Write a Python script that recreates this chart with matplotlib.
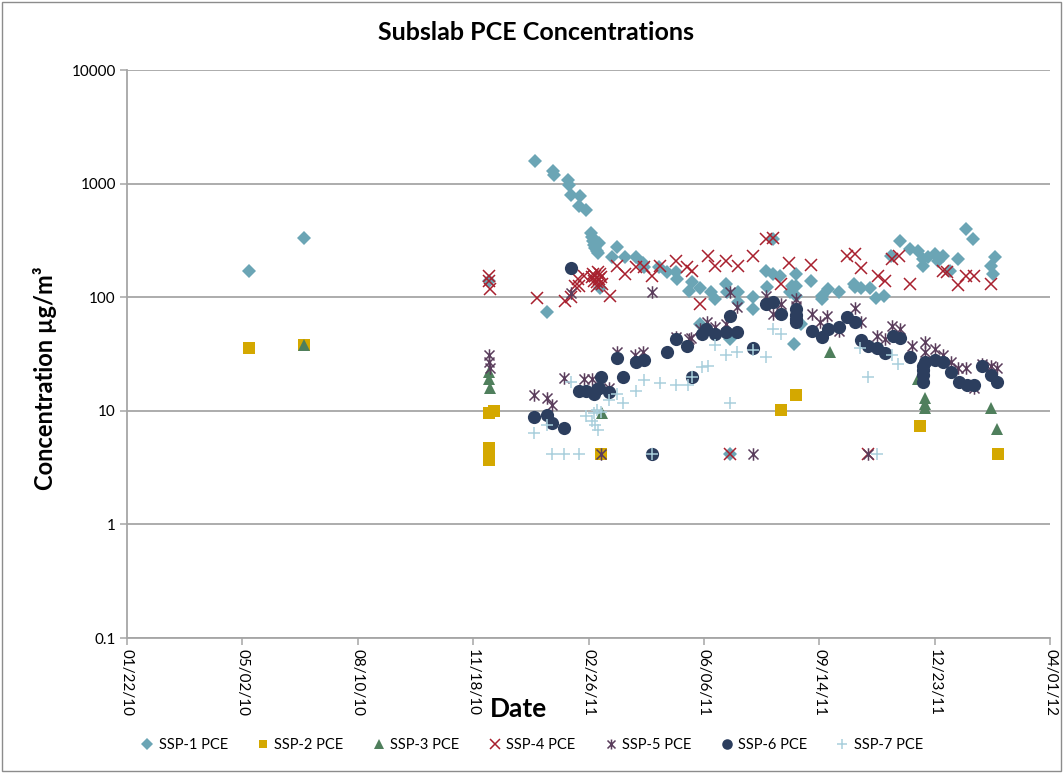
import matplotlib
matplotlib.use('Agg')
import matplotlib.pyplot as plt
import matplotlib.dates as mdates
from matplotlib.path import Path
from matplotlib.patches import Rectangle
from matplotlib.ticker import FixedLocator, FuncFormatter
import pandas as pd

plt.rcParams['font.family'] = ['Lato', 'DejaVu Sans']

# ---- data (date, PCE in ug/m3) ----
ssp1_dates = ["2010-05-08", "2010-06-24", "2010-12-02",
              "2011-01-11", "2011-01-21", "2011-01-26", "2011-01-27", "2011-02-08", "2011-02-09",
              "2011-02-11", "2011-02-18", "2011-02-19", "2011-02-24",
              "2011-02-28", "2011-03-01", "2011-03-02", "2011-03-03", "2011-03-04", "2011-03-05",
              "2011-03-06", "2011-03-07", "2011-03-08",
              "2011-03-18", "2011-03-23", "2011-03-30", "2011-04-08", "2011-04-14", "2011-04-15",
              "2011-04-28", "2011-05-05", "2011-05-13", "2011-05-14", "2011-05-24", "2011-05-27",
              "2011-06-03", "2011-06-03", "2011-06-12", "2011-06-16", "2011-06-25", "2011-06-26",
              "2011-06-29", "2011-06-29", "2011-07-06", "2011-07-06", "2011-07-19", "2011-07-19",
              "2011-07-30", "2011-07-31", "2011-08-05", "2011-08-05", "2011-08-11", "2011-08-20",
              "2011-08-21", "2011-08-25", "2011-08-25", "2011-08-25", "2011-08-23", "2011-08-29",
              "2011-09-07", "2011-09-16", "2011-09-16", "2011-09-22", "2011-10-01", "2011-10-14",
              "2011-10-15", "2011-10-20", "2011-10-28", "2011-11-02", "2011-11-09", "2011-11-15",
              "2011-11-23", "2011-12-02", "2011-12-09", "2011-12-13", "2011-12-13", "2011-12-17",
              "2011-12-23", "2011-12-26", "2011-12-30", "2012-01-05", "2012-01-12", "2012-01-19",
              "2012-01-25", "2012-02-10", "2012-02-12", "2012-02-13"]
ssp1_vals = [170, 330, 140,
             1590, 74, 1280, 1180, 1080, 980,
             800, 630, 770, 590,
             370, 340, 310, 290, 270, 255,
             245, 300, 120,
             225, 276, 225, 225, 200, 184,
             184, 166, 166, 144, 113, 136,
             120, 58, 111, 96, 130, 111,
             43, 4.2, 111, 90, 100, 78,
             169, 122, 324, 159, 153, 111,
             125, 159, 125, 102, 39, 58,
             138, 102, 96, 118, 111, 130,
             122, 120, 120, 98, 102, 230,
             311, 265, 254, 216, 187, 225,
             239, 207, 230, 169, 216, 397,
             324, 187, 159, 225]

ssp2_dates = ["2010-05-08", "2010-06-24", "2010-12-02", "2010-12-06", "2010-12-02", "2010-12-02",
              "2011-03-09", "2011-08-12", "2011-08-25", "2011-12-10", "2012-02-16"]
ssp2_vals = [36, 38, 9.6, 9.9, 4.7, 3.7, 4.2, 10.2, 13.8, 7.4, 4.2]

ssp3_dates = ["2010-06-24", "2010-12-02", "2010-12-02", "2010-12-03", "2011-03-10", "2011-09-23",
              "2011-12-09", "2011-12-15", "2011-12-15", "2011-12-15", "2012-02-10", "2012-02-15"]
ssp3_vals = [38, 22, 19, 16, 9.5, 33, 19, 13, 11.5, 10.5, 10.5, 6.9]

ssp4_dates = ["2010-12-02", "2010-12-02", "2010-12-03", "2011-01-12", "2011-02-06", "2011-02-11",
              "2011-02-14", "2011-02-17", "2011-02-18", "2011-02-22",
              "2011-03-01", "2011-03-02", "2011-03-03", "2011-03-04", "2011-03-05", "2011-03-06",
              "2011-03-07", "2011-03-08", "2011-03-09", "2011-03-10", "2011-03-05",
              "2011-03-17", "2011-03-23", "2011-03-30", "2011-04-08", "2011-04-15", "2011-04-22",
              "2011-04-29", "2011-05-13", "2011-05-22", "2011-05-27", "2011-06-03", "2011-06-10",
              "2011-06-16", "2011-06-25", "2011-06-29", "2011-07-06", "2011-07-19", "2011-07-30",
              "2011-08-05", "2011-08-12", "2011-08-19", "2011-09-07", "2011-10-08", "2011-10-15",
              "2011-10-20", "2011-10-26", "2011-11-04", "2011-11-10", "2011-11-16", "2011-11-22",
              "2011-12-02", "2011-12-30", "2012-01-03", "2012-01-12", "2012-01-19", "2012-01-26",
              "2012-02-10"]
ssp4_vals = [155, 138, 118, 98, 92, 100,
             125, 144, 125, 153,
             150, 160, 140, 155, 135, 165,
             145, 160, 150, 130, 125,
             102, 187, 159, 184, 184, 153,
             187, 207, 184, 169, 87, 230,
             187, 207, 4.2, 187, 230, 324,
             330, 130, 199, 191, 230, 239,
             180, 4.2, 153, 138, 216, 230,
             130, 169, 166, 127, 153, 153,
             130]

ssp5_dates = ["2010-12-02", "2010-12-02", "2010-12-03", "2011-01-10", "2011-01-21", "2011-01-25",
              "2011-02-05", "2011-02-11", "2011-02-22", "2011-03-01", "2011-03-09", "2011-03-16",
              "2011-03-23", "2011-04-07", "2011-04-14", "2011-04-22", "2011-05-13", "2011-05-24",
              "2011-05-26", "2011-06-03", "2011-06-09", "2011-06-16", "2011-06-25", "2011-06-29",
              "2011-07-05", "2011-07-19", "2011-07-30", "2011-08-05", "2011-08-12", "2011-08-25",
              "2011-08-25", "2011-09-08", "2011-09-15", "2011-09-21", "2011-10-01", "2011-10-15",
              "2011-10-20", "2011-10-26", "2011-11-03", "2011-11-10", "2011-11-16", "2011-11-23",
              "2011-12-03", "2011-12-15", "2011-12-15", "2011-12-23", "2011-12-30", "2012-01-06",
              "2012-01-12", "2012-01-19", "2012-01-26", "2012-02-02", "2012-02-10", "2012-02-15"]
ssp5_vals = [31, 27, 24, 13.8, 12.9, 11.3,
             19.5, 108, 19, 19, 4.2, 16,
             33, 31, 33, 111, 45, 43,
             44, 52, 60, 55, 58, 111,
             82, 4.2, 102, 71, 87, 96,
             83, 71, 60, 68, 50, 80,
             60, 4.2, 46, 43, 56, 52,
             37, 40, 33, 35, 31, 27,
             24, 24, 16, 26, 25, 24]

ssp6_dates = ["2011-01-10", "2011-01-21", "2011-01-25", "2011-02-05", "2011-02-11", "2011-02-18",
              "2011-02-24", "2011-03-03", "2011-03-05", "2011-03-07", "2011-03-09", "2011-03-16",
              "2011-03-23", "2011-03-28", "2011-04-08", "2011-04-15", "2011-04-22", "2011-05-05",
              "2011-05-13", "2011-05-22", "2011-05-27", "2011-06-04", "2011-06-08", "2011-06-16",
              "2011-06-25", "2011-06-29", "2011-07-05", "2011-07-19", "2011-07-30", "2011-08-05",
              "2011-08-12", "2011-08-25", "2011-08-25", "2011-08-25", "2011-08-25", "2011-09-08",
              "2011-09-16", "2011-09-22", "2011-10-01", "2011-10-08", "2011-10-15", "2011-10-20",
              "2011-10-26", "2011-11-03", "2011-11-10", "2011-11-17", "2011-11-23", "2011-12-02",
              "2011-12-13", "2011-12-13", "2011-12-13", "2011-12-13", "2011-12-15", "2011-12-23",
              "2011-12-30", "2012-01-06", "2012-01-13", "2012-01-20", "2012-01-26", "2012-02-02",
              "2012-02-10", "2012-02-15"]
ssp6_vals = [8.8, 9.2, 7.8, 7, 180, 15,
             15, 14, 15.5, 16, 20, 14.5,
             29, 20, 27, 28, 4.2, 33,
             43, 37, 20, 47, 52, 47,
             49, 68, 49, 36, 87, 90,
             71, 78, 70, 64, 60, 50,
             45, 53, 55, 67, 61, 42,
             37, 36, 32, 46, 44, 30,
             25, 23, 20.5, 18, 27, 28,
             27, 22, 18, 17, 17, 25,
             20.5, 18]

ssp7_dates = ["2011-01-10", "2011-01-21", "2011-01-25", "2011-02-05", "2011-02-11", "2011-02-18",
              "2011-02-24", "2011-03-01", "2011-03-03", "2011-03-04", "2011-03-05", "2011-03-06",
              "2011-03-09", "2011-03-16", "2011-03-23", "2011-03-28", "2011-04-08", "2011-04-15",
              "2011-04-22", "2011-04-29", "2011-05-13", "2011-05-23", "2011-05-27", "2011-06-04",
              "2011-06-10", "2011-06-16", "2011-06-25", "2011-06-29", "2011-07-05", "2011-07-19",
              "2011-07-30", "2011-08-05", "2011-08-12", "2011-10-19", "2011-10-26", "2011-11-03",
              "2011-11-16", "2011-11-21"]
ssp7_vals = [6.4, 7.5, 4.2, 4.2, 18, 4.2,
             9.0, 8.2, 9.6, 7.5, 10.2, 6.8,
             9.8, 12.5, 14, 11.7, 15, 18.5,
             4.2, 17.5, 16.8, 17, 20, 24.5,
             25, 38, 31, 11.7, 33, 34,
             30, 52, 47, 36, 20, 4.2,
             31, 26]

labels = ["SSP-1 PCE", "SSP-2 PCE", "SSP-3 PCE", "SSP-4 PCE", "SSP-5 PCE", "SSP-6 PCE", "SSP-7 PCE"]
y_ticks = [0.1, 1, 10, 100, 1000, 10000]
x_start, x_end = "2010-01-22", "2012-04-01"

# Excel style asterisk: an X with a vertical bar
asterisk = Path([(-1, -1), (1, 1), (-1, 1), (1, -1), (0, -1.25), (0, 1.25)],
                [Path.MOVETO, Path.LINETO] * 3)

styles = [
    dict(marker='D', color='#6BA5B5', ms=7.5, mew=0),
    dict(marker='s', color='#D4A800', ms=8, mew=0),
    dict(marker='^', color='#4F7F5C', ms=9, mew=0),
    dict(marker='x', color='#A8202E', ms=8.5, mew=1.1),
    dict(marker=asterisk, color='#5A3D5C', ms=9, mew=1.1),
    dict(marker='o', color='#2C3E5E', ms=9.5, mew=0),
    dict(marker='+', color='#A9CFDC', ms=9, mew=1.1),
]
series = [(ssp1_dates, ssp1_vals), (ssp2_dates, ssp2_vals), (ssp3_dates, ssp3_vals),
          (ssp4_dates, ssp4_vals), (ssp5_dates, ssp5_vals), (ssp6_dates, ssp6_vals),
          (ssp7_dates, ssp7_vals)]

fig = plt.figure(figsize=(10.63, 7.73), dpi=100)
ax = fig.add_axes([127 / 1063, 1 - 638 / 773, (1050 - 127) / 1063, (638 - 70) / 773])

handles = []
for (d, v), lab, st in zip(series, labels, styles):
    h, = ax.plot(pd.to_datetime(d), v, linestyle='none', label=lab, clip_on=False, **st)
    handles.append(h)

ax.set_yscale('log')
ax.set_ylim(0.1, 10000)
ax.yaxis.set_major_locator(FixedLocator(y_ticks))
ax.yaxis.set_major_formatter(FuncFormatter(lambda v, p: f"{v:g}"))
ax.yaxis.set_minor_locator(FixedLocator([]))
ax.grid(axis='y', color='#A6A6A6', lw=1.3)
ax.set_axisbelow(True)

xticks = pd.date_range(x_start, periods=9, freq='100D')
ax.set_xlim(pd.Timestamp(x_start), pd.Timestamp(x_end))
ax.set_xticks(xticks)
ax.xaxis.set_major_formatter(mdates.DateFormatter('%m/%d/%y'))
plt.setp(ax.get_xticklabels(), rotation=-90)

for s in ['top', 'right']:
    ax.spines[s].set_visible(False)
for s in ['left', 'bottom']:
    ax.spines[s].set_color('#A6A6A6')
    ax.spines[s].set_linewidth(1.3)
ax.tick_params(axis='both', color='#A6A6A6', length=5, width=1.1, labelsize=11, pad=3)

# title and axis titles sit where Excel put them (chart-area centred, not plot-area)
fig.text(536 / 1063, 1 - 32 / 773, 'Subslab PCE Concentrations', fontsize=18,
         fontweight='bold', ha='center', va='center')
fig.text(45 / 1063, 1 - 378 / 773, 'Concentration µg/m³', fontsize=17, fontweight='bold',
         rotation=90, ha='center', va='center')
fig.text(519 / 1063, 1 - 709 / 773, 'Date', fontsize=19, fontweight='bold',
         ha='center', va='center')

fig.legend(handles=handles, loc='center', bbox_to_anchor=(0.5, 1 - 745 / 773), ncol=7,
           frameon=False, fontsize=10.5, handlelength=1.0, handletextpad=0.3,
           columnspacing=1.9, markerscale=0.8)

fig.patches.append(Rectangle((0.002, 0.002), 0.996, 0.996, transform=fig.transFigure,
                             fill=False, edgecolor='#8C8C8C', lw=1))

fig.savefig('out.png', dpi=100)
